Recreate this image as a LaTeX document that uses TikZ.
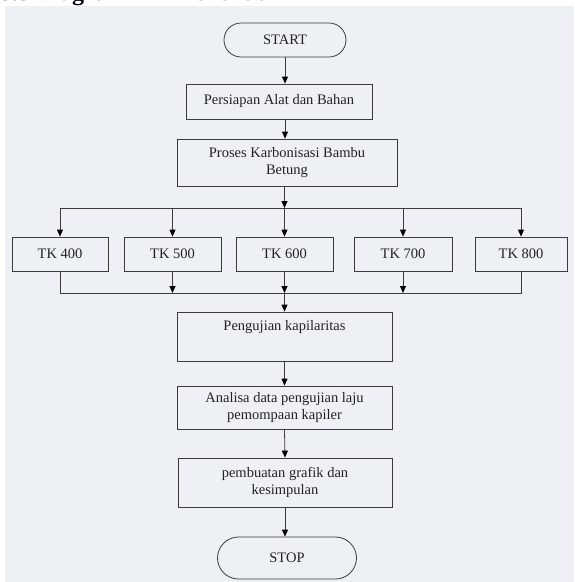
\documentclass[tikz,border=0pt]{standalone}
\usepackage{fontspec}
\setmainfont{Liberation Serif}
\usetikzlibrary{arrows.meta}
\definecolor{bg}{RGB}{237,241,245}
\definecolor{ln}{RGB}{60,60,60}
\definecolor{tx}{RGB}{35,35,35}
\tikzset{
  box/.style={draw=ln, line width=0.8pt, rectangle, align=center, inner sep=0pt, text=tx, font=\fontsize{14.5}{17}\selectfont},
  term/.style={box, rounded corners=17pt},
  conn/.style={draw=ln, line width=0.8pt},
  arr/.style={conn, -{Triangle[length=7pt,width=6pt,fill=black,color=black]}},
}
\begin{document}
\begin{tikzpicture}[x=1pt,y=-1pt]
\useasboundingbox (0,0) rectangle (574,582);
\fill[bg] (5,6) rectangle (574,582);
\node[anchor=base west, font=\bfseries\fontsize{24}{29}\selectfont, inner sep=0pt] (title) at (0,0.5) {3.3 Diagram Alir Penelitian};
\node[term, minimum width=122pt, minimum height=34pt] (start) at (285,40) {START};
\node[box, minimum width=186pt, minimum height=35pt] (persiapan) at (279,101.5) {Persiapan Alat dan Bahan};
\node[box, minimum width=220pt, minimum height=47pt] (proses) at (287,162.5) {Proses Karbonisasi Bambu\\Betung};
\node[box, minimum width=96pt, minimum height=34pt] (tk4) at (60,254) {TK 400};
\node[box, minimum width=97pt, minimum height=34pt] (tk5) at (172.5,254) {TK 500};
\node[box, minimum width=97pt, minimum height=34pt] (tk6) at (284.5,254) {TK 600};
\node[box, minimum width=98pt, minimum height=34pt] (tk7) at (403,254) {TK 700};
\node[box, minimum width=92pt, minimum height=34pt] (tk8) at (521,254) {TK 800};
\node[box, minimum width=215pt, minimum height=49pt] (uji) at (284.5,336.5) {Pengujian kapilaritas\\\strut};
\node[box, minimum width=215pt, minimum height=43pt] (analisa) at (284.5,407.5) {Analisa data pengujian laju\\pemompaan kapiler};
\node[box, minimum width=214pt, minimum height=49pt] (grafik) at (285,482.5) {pembuatan grafik dan\\kesimpulan};
\node[term, rounded corners=21pt, minimum width=139pt, minimum height=42pt] (stop) at (287,558) {STOP};
\coordinate (top) at (0,208);
\coordinate (bot) at (0,293);
\draw[arr] (285,0 |- start.south) -- (285,0 |- persiapan.north);
\draw[arr] (285,0 |- persiapan.south) -- (285,0 |- proses.north);
\draw[arr] (tk6.north |- proses.south) -- (tk6.north |- top);
\draw[conn] (tk4.north |- top) -- (tk8.north |- top);
\foreach \n in {tk4,tk5,tk6,tk7,tk8}{\draw[arr] (\n.north |- top) -- (\n.north);}
\draw[conn] (tk4.south) -- (tk4.south |- bot) -- (tk8.south |- bot) -- (tk8.south);
\foreach \n in {tk5,tk6,tk7}{\draw[arr] (\n.south) -- (\n.south |- bot);}
\draw[arr] (tk6.south |- bot) -- (tk6.south |- uji.north);
\draw[arr] (uji.south) -- (analisa.north);
\draw[arr] (analisa.south) -- (grafik.north);
\draw[arr] (grafik.south) -- (grafik.south |- stop.north);
\end{tikzpicture}
\end{document}
